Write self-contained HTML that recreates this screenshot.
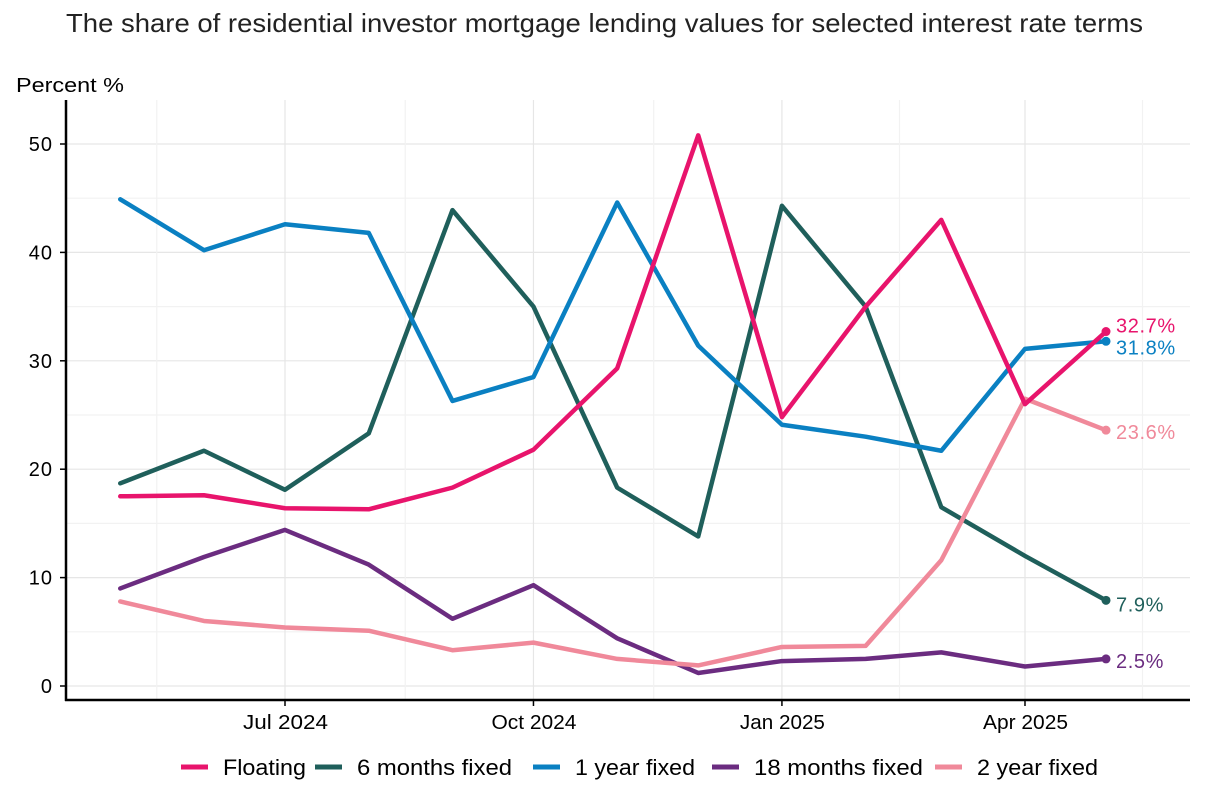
<!DOCTYPE html>
<html><head><meta charset="utf-8"><style>
body{margin:0;background:#fff;font-family:"Liberation Sans",sans-serif;}
svg{display:block}
</style></head><body>
<svg id="c" width="1214" height="787">
<text x="66" y="32" textLength="1077" lengthAdjust="spacingAndGlyphs" font-size="26" fill="#222">The share of residential investor mortgage lending values for selected interest rate terms</text>
<text x="16" y="92" font-size="20" fill="#000" textLength="108" lengthAdjust="spacingAndGlyphs">Percent %</text>
<g id="grid"></g><g id="axes"></g><g id="series"></g><g id="legend"></g>
</svg>
<script>
const months=["2024-05-01","2024-06-01","2024-07-01","2024-08-01","2024-09-01","2024-10-01","2024-11-01","2024-12-01","2025-01-01","2025-02-01","2025-03-01","2025-04-01","2025-05-01"];
const floating=[17.5,17.6,16.4,16.3,18.3,21.8,29.3,50.8,24.8,35,43,26,32.7];
const sixMonths=[18.7,21.7,18.1,23.3,43.9,35,18.3,13.8,44.3,35,16.5,12,7.9];
const oneYear=[44.9,40.2,42.6,41.8,26.3,28.5,44.6,31.4,24.1,23,21.7,31.1,31.8];
const eighteenMonths=[9,11.9,14.4,11.2,6.2,9.3,4.4,1.2,2.3,2.5,3.1,1.8,2.5];
const twoYear=[7.8,6,5.4,5.1,3.3,4,2.5,1.9,3.6,3.7,11.6,26.5,23.6];
const yTicks=[0,10,20,30,40,50];
const xTickDates=["2024-07-01","2024-10-01","2025-01-01","2025-04-01"];
const xMinorDates=["2024-05-16","2024-08-16","2024-11-16","2025-02-15","2025-05-16"];
const xTickLabels=["Jul 2024","Oct 2024","Jan 2025","Apr 2025"];
const seriesNames=["Floating","6 months fixed","1 year fixed","18 months fixed","2 year fixed"];
const seriesColors=["#e8146c","#1f5f5b","#0a80c2","#6b2c80","#f0899a"];
const NS="http://www.w3.org/2000/svg";
const T0=Date.parse("2024-07-01"),DAY=86400000;
const XD=s=>285+(Date.parse(s)-T0)/DAY*2.7007;
const X=i=>XD(months[i]), Y=v=>686-v*10.84;
function el(p,t,a){const e=document.createElementNS(NS,t);for(const k in a)e.setAttribute(k,a[k]);p.appendChild(e);return e;}
const grid=document.getElementById('grid'),axes=document.getElementById('axes'),ser=document.getElementById('series'),leg=document.getElementById('legend');
for(let v=0;v<=52;v+=5){const l=el(grid,'line',{x1:66,x2:1190,y1:Y(v),y2:Y(v),stroke:v%10?'#f2f2f2':'#e6e6e6','stroke-width':1.2});

}
xMinorDates.forEach(d=>{const l=el(grid,'line',{x1:XD(d)-4,x2:XD(d)-4,y1:100,y2:700,stroke:'#f2f2f2','stroke-width':1.2});

});
xTickDates.forEach((d,k)=>{const x=XD(d);const l=el(grid,'line',{x1:x,x2:x,y1:100,y2:700,stroke:'#e6e6e6','stroke-width':1.2});


const tk=el(axes,'line',{x1:x,x2:x,y1:700,y2:706,stroke:'#000','stroke-width':1.5});


const t=el(axes,'text',{x:x-42,y:729,'font-size':20,fill:'#000',textLength:85,lengthAdjust:'spacingAndGlyphs'});t.textContent=xTickLabels[k];

});
yTicks.forEach(v=>{const tk=el(axes,'line',{x1:60,x2:66,y1:Y(v),y2:Y(v),stroke:'#000','stroke-width':1.5});


const t=el(axes,'text',{x:53,y:Y(v)+7,'text-anchor':'end','font-size':20,fill:'#000','letter-spacing':1});t.textContent=v;

});
const ya=el(axes,'line',{x1:66,x2:66,y1:100,y2:701,stroke:'#000','stroke-width':2.5});


const xa=el(axes,'line',{x1:65,x2:1190,y1:700,y2:700,stroke:'#000','stroke-width':2.5});


const all=[floating,sixMonths,oneYear,eighteenMonths,twoYear];
const order=[1,3,4,2,0];
const labelDy=[-6,4,6,2,2];
const last=months.length-1;
order.forEach(s=>{const d=all[s];
const p=el(ser,'polyline',{points:d.map((v,i)=>X(i)+','+Y(v)).join(' '),fill:'none',stroke:seriesColors[s],'stroke-width':4.5,'stroke-linejoin':'round','stroke-linecap':'round'});


const c=el(ser,'circle',{cx:X(last),cy:Y(d[last]),r:4.5,fill:seriesColors[s]});


const t=el(ser,'text',{x:X(last)+10,y:Y(d[last])+7+labelDy[s],'font-size':20,fill:seriesColors[s],'letter-spacing':0.6});t.textContent=d[last].toFixed(1)+'%';

});
const lx=[181,315,533,712,935];
const lw=[83,155,120,169,121];
seriesNames.forEach((n,s)=>{const g=el(leg,'g',{});


el(g,'line',{x1:lx[s],x2:lx[s]+27,y1:767,y2:767,stroke:seriesColors[s],'stroke-width':5});
const t=el(g,'text',{x:lx[s]+42,y:775,'font-size':22,fill:'#000',textLength:lw[s],lengthAdjust:'spacingAndGlyphs'});t.textContent=n;});
</script>
</body></html>
